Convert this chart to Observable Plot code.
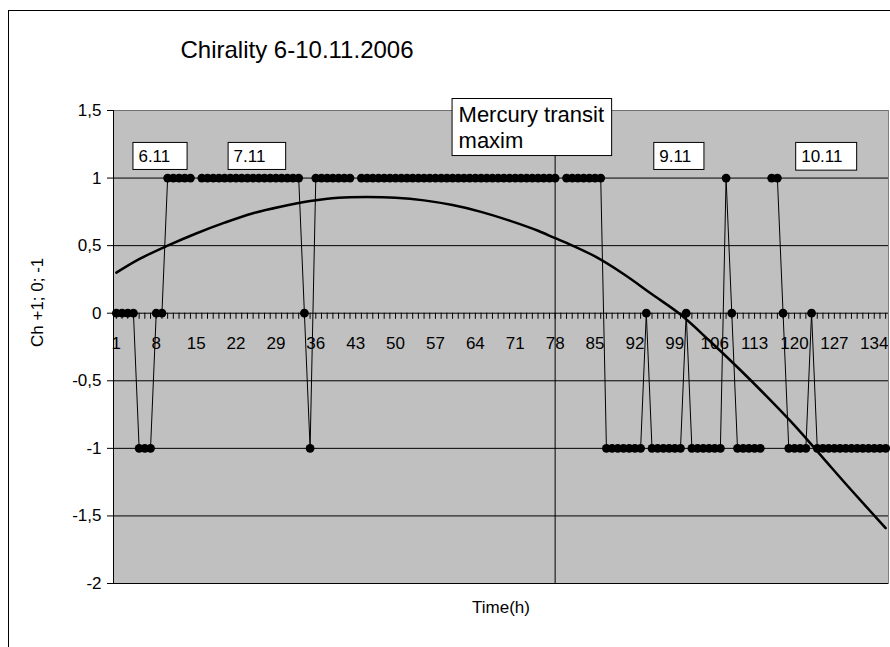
<!DOCTYPE html>
<html>
<head>
<meta charset="utf-8">
<script src="https://cdn.jsdelivr.net/npm/d3@7"></script>
<script src="https://cdn.jsdelivr.net/npm/@observablehq/plot@0.6"></script>
<style>
  html, body { margin: 0; padding: 0; background: #fff; overflow: hidden; }
  #wrap { position: relative; width: 890px; height: 647px; overflow: hidden; }
  #border { position: absolute; left: 8px; top: 10px; width: 1000px; height: 1000px;
            border-left: 1.5px solid #000; border-top: 1.5px solid #000; box-sizing: border-box; pointer-events: none; }
  #chart { position: absolute; left: 0; top: 0; }
</style>
</head>
<body>
<div id="wrap"><div id="chart"></div><div id="border"></div></div>
<script>
// ---- data ----
const hours = d3.range(1, 137); // hourly categories 1..136
const chirality = [
  0, 0, 0, 0, -1, -1, -1, 0, 0, 1,
  1, 1, 1, 1, null, 1, 1, 1, 1, 1,
  1, 1, 1, 1, 1, 1, 1, 1, 1, 1,
  1, 1, 1, 0, -1, 1, 1, 1, 1, 1,
  1, 1, null, 1, 1, 1, 1, 1, 1, 1,
  1, 1, 1, 1, 1, 1, 1, 1, 1, 1,
  1, 1, 1, 1, 1, 1, 1, 1, 1, 1,
  1, 1, 1, 1, 1, 1, 1, 1, null, 1,
  1, 1, 1, 1, 1, 1, -1, -1, -1, -1,
  -1, -1, -1, 0, -1, -1, -1, -1, -1, -1,
  0, -1, -1, -1, -1, -1, -1, 1, 0, -1,
  -1, -1, -1, -1, null, 1, 1, 0, -1, -1,
  -1, -1, 0, -1, -1, -1, -1, -1, -1, -1,
  -1, -1, -1, -1, -1, -1
];
const xTickLabels = [1, 8, 15, 22, 29, 36, 43, 50, 57, 64, 71, 78, 85, 92, 99, 106, 113, 120, 127, 134];
const yTicks = [1.5, 1, 0.5, 0, -0.5, -1, -1.5, -2];
// polynomial trend line
const trendHour  = [1, 5, 10, 15, 20, 25, 30, 35, 40, 45, 50, 55, 60, 65, 70, 75, 78, 80, 85, 90, 95, 100, 105, 110, 115, 120, 125, 130, 136];
const trendValue = [0.30, 0.40, 0.50, 0.59, 0.67, 0.74, 0.79, 0.83, 0.855, 0.86, 0.855, 0.835, 0.80, 0.75, 0.685, 0.61, 0.555, 0.52, 0.42, 0.29, 0.14, -0.01, -0.20, -0.40, -0.61, -0.83, -1.07, -1.31, -1.59];
const dayLabels = ["6.11", "7.11", "9.11", "10.11"];
const eventHour = 78;
const eventLabel = "Mercury transit\nmaxim";
const titleText = "Chirality 6-10.11.2006";
const xTitle = "Time(h)";
const yTitle = "Ch +1; 0; -1";

// ---- layout of annotation boxes (in hour / value units) ----
const dayBoxLayout = [
  {x1: 4.0, x2: 13.5, y1: 1.06, y2: 1.26},
  {x1: 20.7, x2: 30.8, y1: 1.06, y2: 1.26},
  {x1: 95.4, x2: 104.2, y1: 1.06, y2: 1.26},
  {x1: 120.3, x2: 131.0, y1: 1.055, y2: 1.26}
];
const eventBoxLayout = {x1: 60.0, x2: 88.0, y1: 1.163, y2: 1.585};

const table = hours.map((h, i) => ({hour: h, ch: chirality[i]}));
const trend = trendHour.map((h, i) => ({hour: h, v: trendValue[i]}));
const dayBoxes = dayLabels.map((t, i) => ({text: t, ...dayBoxLayout[i]}));
const eventBox = [{text: eventLabel, ...eventBoxLayout}];

const font = "'Liberation Sans', Arial, sans-serif";

const chart = Plot.plot({
  width: 890,
  height: 647,
  marginLeft: 113,
  marginRight: 2,
  marginTop: 110,
  marginBottom: 64,
  style: {fontFamily: font, fontSize: "17px", color: "#000", background: "transparent"},
  x: {domain: [0.5, 136.5], axis: null},
  y: {domain: [-2, 1.5], axis: null},
  marks: [
    Plot.frame({fill: "#C0C0C0", stroke: "#808080"}),
    Plot.ruleY(yTicks.filter(d => d !== 1.5), {stroke: "#000", strokeWidth: 1}),
    Plot.ruleY([1.5], {stroke: "#707070", strokeWidth: 1}),
    Plot.ruleX([0.5], {stroke: "#000", strokeWidth: 1}),
    Plot.ruleX([eventHour], {stroke: "#000", strokeWidth: 1}),
    // category tick marks on the zero axis
    Plot.ruleX(hours, {x: d => d, y1: 0, y2: -0.045, stroke: "#000", strokeWidth: 1}),
    Plot.text(xTickLabels, {x: d => d, y: 0, dy: 30, text: d => String(d), fontSize: 17, fill: "#000"}),
    // y axis
    Plot.axisY(yTicks, {tickSize: 6, tickPadding: 6, tickFormat: d => String(d).replace(".", ","), fontSize: 17, label: null, stroke: "#000"}),
    // data
    Plot.line(table, {x: "hour", y: "ch", stroke: "#000", strokeWidth: 1}),
    Plot.dot(table, {x: "hour", y: "ch", r: 4.4, fill: "#000", stroke: null}),
    Plot.line(trend, {x: "hour", y: "v", stroke: "#000", strokeWidth: 2.5, curve: "catmull-rom"}),
    // annotation boxes
    Plot.rect(dayBoxes, {x1: "x1", x2: "x2", y1: "y1", y2: "y2", fill: "#fff", stroke: "#000", strokeWidth: 1}),
    Plot.text(dayBoxes, {x: "x1", y: d => (d.y1 + d.y2) / 2, dx: 5, text: "text", textAnchor: "start", fontSize: 17, fill: "#000"}),
    Plot.rect(eventBox, {x1: "x1", x2: "x2", y1: "y1", y2: "y2", fill: "#fff", stroke: "#000", strokeWidth: 1}),
    Plot.text(eventBox, {x: "x1", y: "y2", dx: 6, dy: 5, text: "text", textAnchor: "start", lineAnchor: "top", fontSize: 22, lineHeight: 1.18, fill: "#000"}),
    // titles
    Plot.text([titleText], {frameAnchor: "top-left", dx: 67, dy: -60, text: d => d, textAnchor: "start", lineAnchor: "middle", fontSize: 24, fill: "#000"}),
    Plot.text([xTitle], {frameAnchor: "bottom", dy: 24, text: d => d, lineAnchor: "middle", fontSize: 17, fill: "#000"}),
    Plot.text([yTitle], {frameAnchor: "left", dx: -76, rotate: -90, text: d => d, lineAnchor: "middle", fontSize: 17, fill: "#000"})
  ]
});
document.getElementById("chart").appendChild(chart);
</script>
</body>
</html>
